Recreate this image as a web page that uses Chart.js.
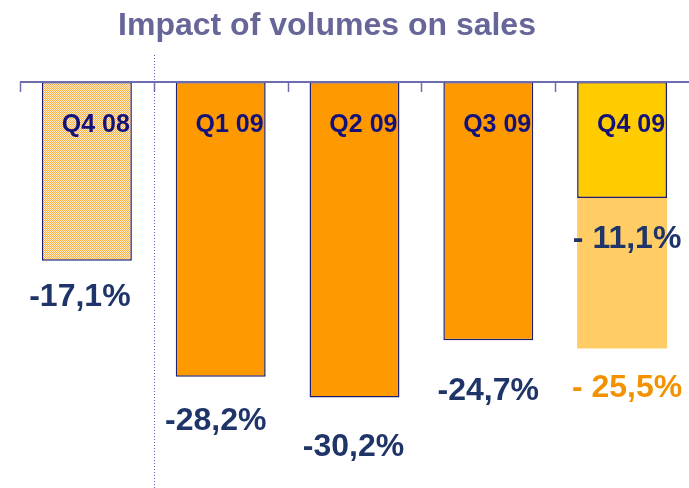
<!DOCTYPE html>
<html>
<head>
<meta charset="utf-8">
<script src="https://cdn.jsdelivr.net/npm/chart.js@4/dist/chart.umd.min.js"></script>
<style>
  html, body { margin: 0; padding: 0; background: #fff; }
  #wrap { width: 689px; height: 488px; position: relative; }
</style>
</head>
<body>
<div id="wrap"><canvas id="salesChart"></canvas></div>
<script>
// data
const quarters = ['Q4 08', 'Q1 09', 'Q2 09', 'Q3 09', 'Q4 09'];
const volumeImpact = [-17.1, -28.2, -30.2, -24.7, -11.1];
const volumeImpactAlt = [null, null, null, null, -25.5];

// style
const NAVY = '#1f3468';
const LABEL_NAVY = '#12127a';
const AXIS = '#6c6cae';
const valueDx = [-7, -5, -1, 0, 5];
const valueDy = [36, 44, 50, 51, 41];
const altDy = 40;

function fmt(v, spaced) {
    const s = Math.abs(v).toFixed(1).replace('.', ',') + '%';
    return (spaced ? '- ' : '-') + s;
}

// checkered fill for Q4 08
const pc = document.createElement('canvas');
pc.width = 2; pc.height = 2;
const pctx = pc.getContext('2d');
pctx.fillStyle = '#ffedd0'; pctx.fillRect(0, 0, 2, 2);
pctx.fillStyle = '#ffad45'; pctx.fillRect(0, 0, 1, 1); pctx.fillRect(1, 1, 1, 1);
const checker = pctx.createPattern(pc, 'repeat');

const decorations = {
    id: 'decorations',
    beforeDatasetsDraw(chart) {
        const { ctx, scales } = chart;
        const x = scales.x;
        const step = x.getPixelForValue(1) - x.getPixelForValue(0);
        // dotted separator between Q4 08 and 2009
        ctx.save();
        ctx.strokeStyle = '#5c5ca6';
        ctx.lineWidth = 1;
        ctx.setLineDash([1, 2]);
        const sx = Math.round(x.getPixelForValue(0) + step / 2) + 0.5;
        ctx.beginPath();
        ctx.moveTo(sx, 55);
        ctx.lineTo(sx, chart.height);
        ctx.stroke();
        ctx.restore();
    },
    afterDatasetsDraw(chart) {
        const { ctx, chartArea, scales } = chart;
        const x = scales.x;
        const step = x.getPixelForValue(1) - x.getPixelForValue(0);
        const y0 = scales.y.getPixelForValue(0);

        // axis line + ticks at category boundaries
        ctx.save();
        ctx.strokeStyle = AXIS;
        ctx.lineWidth = 2;
        ctx.beginPath();
        ctx.moveTo(chartArea.left, y0);
        ctx.lineTo(chartArea.right, y0);
        ctx.stroke();
        ctx.lineWidth = 1.5;
        for (let i = 0; i < quarters.length; i++) {
            const tx = Math.round(x.getPixelForValue(i) - step / 2) + 0.5;
            ctx.beginPath();
            ctx.moveTo(tx, y0);
            ctx.lineTo(tx, y0 + 10);
            ctx.stroke();
        }
        ctx.restore();

        // title
        ctx.save();
        ctx.fillStyle = '#666699';
        ctx.font = 'bold 32px "Liberation Sans", Arial, sans-serif';
        ctx.textAlign = 'center';
        ctx.textBaseline = 'alphabetic';
        ctx.fillText('Impact of volumes on sales', 327, 35);
        ctx.restore();

        const main = chart.getDatasetMeta(1).data;
        const alt = chart.getDatasetMeta(0).data;

        ctx.save();
        ctx.textBaseline = 'alphabetic';
        ctx.textAlign = 'right';
        ctx.font = 'bold 25px "Liberation Sans", Arial, sans-serif';
        ctx.fillStyle = LABEL_NAVY;
        main.forEach((bar, i) => {
            ctx.fillText(quarters[i], bar.x + bar.width / 2 - 2, y0 + 50);
        });

        ctx.textAlign = 'center';
        ctx.textBaseline = 'middle';
        ctx.font = 'bold 32px "Liberation Sans", Arial, sans-serif';
        main.forEach((bar, i) => {
            const last = i === quarters.length - 1;
            ctx.fillStyle = NAVY;
            ctx.fillText(fmt(volumeImpact[i], last), bar.x + valueDx[i], bar.y + valueDy[i]);
        });
        alt.forEach((bar, i) => {
            if (volumeImpactAlt[i] == null) return;
            ctx.fillStyle = '#f39200';
            ctx.fillText(fmt(volumeImpactAlt[i], true), bar.x + valueDx[i], bar.y + altDy);
        });
        ctx.restore();
    }
};

new Chart(document.getElementById('salesChart'), {
    type: 'bar',
    data: {
        labels: quarters,
        datasets: [
            {
                data: volumeImpactAlt,
                backgroundColor: '#ffcc66',
                borderWidth: 0,
                grouped: false,
                order: 2
            },
            {
                data: volumeImpact,
                backgroundColor: [checker, '#ff9900', '#ff9900', '#ff9900', '#ffcc00'],
                borderColor: '#1e1e70',
                borderWidth: 1.5,
                borderSkipped: false,
                grouped: false,
                order: 1
            }
        ]
    },
    options: {
        responsive: true,
        maintainAspectRatio: false,
        animation: false,
        layout: { padding: { top: 82, left: 20, right: 0, bottom: 0 } },
        datasets: { bar: { barPercentage: 0.672, categoryPercentage: 1 } },
        plugins: { legend: { display: false }, tooltip: { enabled: false } },
        scales: {
            x: { display: false },
            y: { display: false, min: -38.85, max: 0 }
        }
    },
    plugins: [decorations]
});
</script>
</body>
</html>
